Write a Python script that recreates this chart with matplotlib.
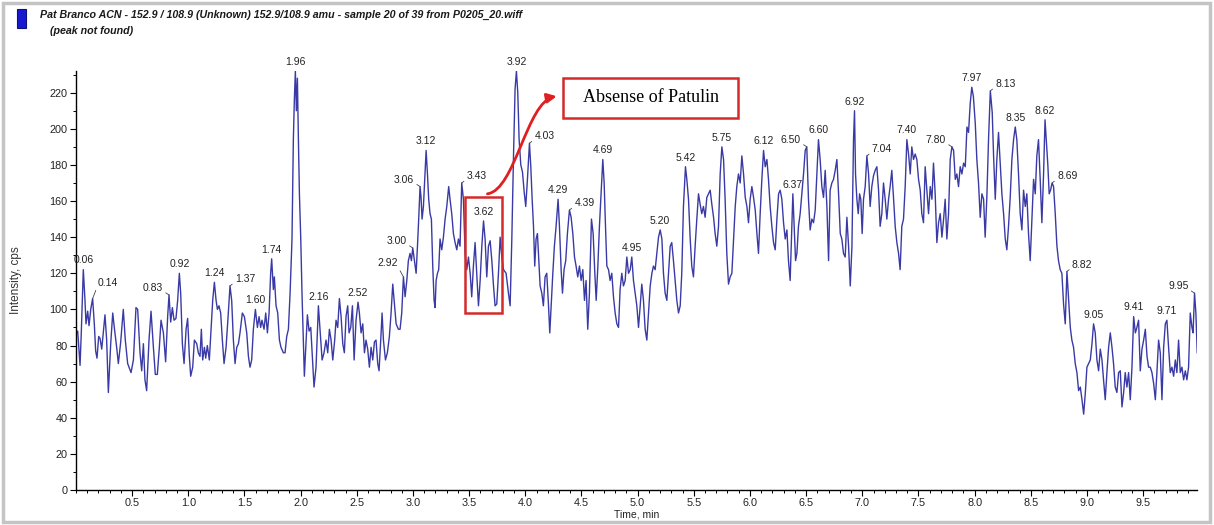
import numpy as np
import matplotlib
matplotlib.use("Agg")
import matplotlib.pyplot as plt
from matplotlib.patches import Rectangle, FancyArrowPatch
from matplotlib.path import Path
from matplotlib.ticker import MultipleLocator

plt.rcParams['font.family'] = ['Liberation Sans', 'DejaVu Sans']

# --------------------------------------------------
# XIC trace 152.9 / 108.9 (time in min, intensity in cps)
# --------------------------------------------------

trace_0_1 = [(0.000, 86), (0.015, 88), (0.036, 69), (0.047, 87), (0.065, 122), (0.080, 105), (0.089, 92),
             (0.104, 99), (0.116, 91), (0.131, 100), (0.148, 106), (0.163, 92), (0.175, 77), (0.187, 73),
             (0.202, 85), (0.214, 84), (0.229, 78), (0.243, 87), (0.258, 97), (0.273, 83), (0.288, 54),
             (0.309, 81), (0.327, 98), (0.341, 90), (0.362, 79), (0.377, 70), (0.398, 82), (0.421, 100),
             (0.439, 83), (0.460, 70), (0.490, 65), (0.511, 72), (0.534, 101), (0.549, 100), (0.570, 76),
             (0.585, 66), (0.600, 81), (0.614, 61), (0.629, 55), (0.650, 83), (0.668, 99), (0.689, 79),
             (0.706, 64), (0.724, 64), (0.742, 79), (0.757, 94), (0.778, 87), (0.798, 71), (0.816, 96),
             (0.828, 108), (0.843, 93), (0.858, 101), (0.873, 94), (0.890, 95), (0.905, 105), (0.920, 120),
             (0.932, 109), (0.947, 81), (0.962, 70), (0.980, 89), (0.994, 95)]

trace_1_2 = [(1.009, 74), (1.021, 63), (1.039, 68), (1.054, 83), (1.075, 81), (1.089, 76), (1.104, 74),
             (1.116, 89), (1.128, 72), (1.143, 79), (1.155, 73), (1.169, 80), (1.187, 72), (1.202, 89),
             (1.217, 105), (1.232, 115), (1.247, 105), (1.259, 100), (1.273, 102), (1.288, 98), (1.303, 83),
             (1.318, 70), (1.336, 79), (1.354, 96), (1.371, 113), (1.386, 105), (1.401, 83), (1.416, 70),
             (1.431, 79), (1.446, 81), (1.460, 87), (1.481, 98), (1.499, 96), (1.520, 87), (1.535, 74),
             (1.549, 68), (1.564, 72), (1.579, 89), (1.597, 100), (1.615, 90), (1.630, 96), (1.644, 90),
             (1.656, 94), (1.674, 89), (1.689, 98), (1.704, 87), (1.719, 98), (1.733, 120), (1.742, 128),
             (1.757, 111), (1.766, 118), (1.781, 102), (1.796, 98), (1.811, 83), (1.825, 79), (1.846, 76),
             (1.861, 76), (1.876, 85), (1.891, 89), (1.906, 109), (1.923, 139), (1.935, 194), (1.944, 216),
             (1.953, 232), (1.962, 210), (1.971, 228), (1.980, 194), (1.989, 164)]

trace_2_3 = [(2.001, 139), (2.012, 109), (2.024, 83), (2.033, 63), (2.060, 97), (2.075, 88), (2.090, 90),
             (2.104, 74), (2.119, 57), (2.137, 68), (2.158, 102), (2.173, 88), (2.191, 72), (2.208, 76),
             (2.226, 83), (2.241, 76), (2.256, 89), (2.271, 83), (2.286, 72), (2.303, 83), (2.315, 94),
             (2.330, 90), (2.345, 106), (2.360, 96), (2.375, 81), (2.389, 76), (2.404, 96), (2.419, 102),
             (2.431, 87), (2.446, 90), (2.461, 102), (2.476, 72), (2.493, 94), (2.511, 104), (2.523, 98),
             (2.538, 87), (2.553, 92), (2.568, 76), (2.582, 83), (2.597, 78), (2.612, 68), (2.627, 79),
             (2.642, 72), (2.657, 82), (2.671, 83), (2.686, 70), (2.698, 66), (2.713, 83), (2.725, 98),
             (2.737, 83), (2.755, 72), (2.772, 76), (2.790, 85), (2.805, 98), (2.820, 114), (2.835, 103),
             (2.850, 92), (2.870, 89), (2.885, 89), (2.900, 98), (2.915, 118), (2.930, 107), (2.945, 116),
             (2.959, 127), (2.974, 131), (2.986, 127), (2.998, 134)]

trace_3_4 = [(3.013, 127), (3.028, 120), (3.040, 135), (3.051, 150), (3.063, 168), (3.072, 162), (3.081, 150),
             (3.093, 157), (3.105, 172), (3.117, 188), (3.129, 175), (3.140, 161), (3.152, 153), (3.164, 150),
             (3.176, 124), (3.188, 105), (3.197, 101), (3.206, 116), (3.218, 120), (3.229, 122), (3.241, 139),
             (3.256, 133), (3.271, 140), (3.286, 150), (3.301, 157), (3.318, 168), (3.330, 161), (3.345, 153),
             (3.360, 142), (3.375, 137), (3.390, 133), (3.405, 139), (3.419, 135), (3.434, 170), (3.449, 161),
             (3.464, 131), (3.479, 122), (3.494, 129), (3.509, 120), (3.523, 107), (3.538, 124), (3.553, 137),
             (3.568, 120), (3.583, 102), (3.598, 116), (3.613, 135), (3.628, 149), (3.642, 139), (3.657, 118),
             (3.672, 135), (3.687, 138), (3.702, 127), (3.717, 113), (3.731, 102), (3.746, 103), (3.761, 120),
             (3.776, 140), (3.791, 129), (3.806, 122), (3.829, 120), (3.850, 109), (3.865, 102), (3.880, 139),
             (3.895, 185), (3.909, 222), (3.921, 232), (3.933, 220), (3.945, 194), (3.960, 180), (3.975, 176),
             (3.990, 165)]

trace_4_5 = [(4.004, 157), (4.019, 172), (4.037, 192), (4.049, 179), (4.061, 161), (4.073, 146), (4.084, 124),
             (4.096, 139), (4.108, 142), (4.120, 127), (4.132, 113), (4.147, 109), (4.161, 102), (4.176, 118),
             (4.191, 120), (4.206, 103), (4.218, 87), (4.230, 102), (4.245, 120), (4.259, 135), (4.274, 146),
             (4.292, 161), (4.304, 146), (4.319, 122), (4.331, 109), (4.345, 122), (4.360, 127), (4.375, 142),
             (4.393, 155), (4.408, 151), (4.423, 142), (4.438, 129), (4.452, 124), (4.467, 118), (4.482, 124),
             (4.497, 116), (4.512, 122), (4.527, 105), (4.541, 116), (4.556, 89), (4.571, 109), (4.589, 150),
             (4.604, 142), (4.619, 120), (4.631, 105), (4.646, 124), (4.660, 146), (4.675, 164), (4.690, 183),
             (4.702, 170), (4.714, 146), (4.726, 124), (4.741, 122), (4.755, 116), (4.770, 120), (4.785, 107),
             (4.800, 98), (4.815, 92), (4.830, 90), (4.844, 111), (4.859, 120), (4.874, 113), (4.889, 116),
             (4.904, 129), (4.919, 120), (4.934, 122), (4.948, 129), (4.963, 116), (4.978, 109), (4.993, 102)]

trace_5_6 = [(5.008, 90), (5.023, 102), (5.037, 114), (5.052, 105), (5.067, 89), (5.082, 83), (5.097, 98),
             (5.112, 113), (5.127, 120), (5.141, 124), (5.156, 122), (5.171, 131), (5.186, 140), (5.201, 144),
             (5.216, 139), (5.230, 120), (5.245, 109), (5.260, 105), (5.275, 120), (5.290, 135), (5.304, 137),
             (5.319, 127), (5.334, 116), (5.349, 105), (5.364, 98), (5.379, 102), (5.393, 120), (5.408, 157),
             (5.426, 179), (5.438, 172), (5.453, 161), (5.468, 139), (5.482, 124), (5.497, 118), (5.512, 135),
             (5.527, 150), (5.542, 164), (5.557, 158), (5.571, 153), (5.586, 157), (5.601, 151), (5.616, 162),
             (5.631, 164), (5.646, 166), (5.661, 158), (5.676, 151), (5.690, 142), (5.705, 135), (5.720, 146),
             (5.735, 175), (5.750, 190), (5.765, 183), (5.779, 161), (5.794, 131), (5.809, 114), (5.824, 118),
             (5.839, 120), (5.854, 139), (5.869, 157), (5.883, 168), (5.898, 175), (5.913, 170), (5.928, 185),
             (5.943, 175), (5.958, 162), (5.973, 157), (5.987, 148)]

trace_6_7 = [(6.002, 161), (6.017, 168), (6.032, 162), (6.047, 155), (6.062, 142), (6.076, 131), (6.091, 153),
             (6.106, 172), (6.121, 188), (6.136, 179), (6.151, 183), (6.165, 172), (6.180, 157), (6.195, 146),
             (6.210, 137), (6.225, 133), (6.240, 150), (6.255, 164), (6.269, 166), (6.284, 161), (6.299, 148),
             (6.314, 139), (6.329, 144), (6.343, 127), (6.358, 116), (6.373, 146), (6.382, 164), (6.394, 146),
             (6.406, 127), (6.418, 131), (6.432, 146), (6.447, 153), (6.462, 164), (6.477, 175), (6.492, 188),
             (6.506, 190), (6.521, 161), (6.536, 144), (6.551, 150), (6.566, 148), (6.581, 155), (6.596, 175),
             (6.610, 194), (6.625, 183), (6.640, 168), (6.655, 162), (6.670, 177), (6.685, 157), (6.700, 127),
             (6.714, 166), (6.729, 170), (6.744, 172), (6.759, 177), (6.774, 183), (6.789, 164), (6.804, 142),
             (6.818, 139), (6.833, 131), (6.848, 129), (6.863, 151), (6.878, 135), (6.893, 113), (6.908, 135),
             (6.922, 194), (6.931, 210), (6.940, 175), (6.952, 161), (6.964, 153), (6.976, 164), (6.987, 161)]

trace_7_8 = [(6.999, 142), (7.011, 161), (7.026, 168), (7.041, 185), (7.056, 175), (7.070, 157), (7.085, 168),
             (7.100, 174), (7.115, 177), (7.130, 179), (7.145, 166), (7.159, 146), (7.174, 153), (7.189, 170),
             (7.204, 161), (7.219, 150), (7.234, 161), (7.248, 168), (7.263, 177), (7.278, 162), (7.293, 146),
             (7.308, 137), (7.323, 131), (7.337, 122), (7.352, 146), (7.367, 150), (7.382, 168), (7.397, 194),
             (7.412, 186), (7.427, 175), (7.441, 190), (7.456, 183), (7.471, 186), (7.486, 183), (7.501, 172),
             (7.516, 166), (7.530, 153), (7.545, 148), (7.560, 179), (7.575, 166), (7.590, 153), (7.605, 168),
             (7.620, 161), (7.634, 181), (7.649, 164), (7.664, 137), (7.679, 148), (7.694, 153), (7.709, 140),
             (7.724, 150), (7.738, 161), (7.753, 139), (7.768, 153), (7.783, 183), (7.798, 190), (7.813, 188),
             (7.828, 172), (7.842, 175), (7.857, 168), (7.872, 179), (7.887, 175), (7.902, 181), (7.917, 179),
             (7.932, 201), (7.946, 198), (7.961, 214), (7.975, 223), (7.989, 218)]

trace_8_9 = [(8.006, 203), (8.020, 183), (8.035, 170), (8.050, 151), (8.065, 164), (8.080, 161), (8.094, 140),
             (8.109, 162), (8.124, 194), (8.140, 221), (8.157, 209), (8.169, 185), (8.184, 161), (8.198, 183),
             (8.213, 198), (8.228, 181), (8.243, 164), (8.258, 153), (8.273, 139), (8.287, 133), (8.302, 146),
             (8.317, 162), (8.332, 183), (8.347, 194), (8.362, 201), (8.376, 194), (8.391, 175), (8.406, 153),
             (8.421, 144), (8.436, 166), (8.451, 157), (8.465, 164), (8.480, 142), (8.495, 127), (8.510, 150),
             (8.525, 172), (8.540, 164), (8.554, 185), (8.569, 194), (8.584, 172), (8.599, 148), (8.614, 175),
             (8.627, 205), (8.640, 192), (8.652, 180), (8.664, 164), (8.676, 166), (8.690, 170), (8.703, 168),
             (8.718, 153), (8.733, 135), (8.747, 127), (8.762, 122), (8.777, 120), (8.792, 103), (8.807, 92),
             (8.822, 121), (8.837, 105), (8.852, 90), (8.866, 83), (8.881, 79), (8.896, 70), (8.911, 65),
             (8.926, 55), (8.941, 57), (8.956, 50), (8.971, 42), (8.986, 54)]

trace_9_10 = [(9.000, 68), (9.015, 70), (9.030, 72), (9.045, 81), (9.059, 92), (9.074, 87), (9.089, 72),
              (9.104, 66), (9.119, 78), (9.134, 72), (9.148, 61), (9.163, 50), (9.178, 65), (9.193, 79),
              (9.208, 87), (9.223, 79), (9.237, 70), (9.252, 57), (9.267, 54), (9.282, 65), (9.297, 66),
              (9.312, 46), (9.327, 54), (9.341, 65), (9.356, 57), (9.371, 65), (9.386, 50), (9.401, 68),
              (9.416, 96), (9.431, 87), (9.445, 90), (9.460, 94), (9.475, 66), (9.490, 78), (9.505, 83),
              (9.520, 89), (9.535, 74), (9.549, 68), (9.564, 68), (9.579, 65), (9.594, 59), (9.609, 50),
              (9.623, 65), (9.638, 83), (9.653, 76), (9.668, 50), (9.683, 79), (9.698, 92), (9.712, 94),
              (9.727, 79), (9.742, 65), (9.757, 68), (9.772, 63), (9.787, 72), (9.801, 65), (9.816, 83),
              (9.831, 65), (9.846, 68), (9.861, 61), (9.876, 66), (9.890, 61), (9.905, 68), (9.920, 98),
              (9.935, 90), (9.945, 87), (9.958, 109), (9.970, 98), (9.982, 76)]

# apex labels (retention time, min)
peak_labels = ["0.06", "0.14", "0.83", "0.92", "1.24", "1.37", "1.60", "1.74", "1.96", "2.16", "2.52",
               "2.92", "3.00", "3.06", "3.12", "3.43", "3.62", "3.92", "4.03", "4.29", "4.39", "4.69",
               "4.95", "5.20", "5.42", "5.75", "6.12", "6.37", "6.50", "6.60", "6.92", "7.04", "7.40",
               "7.80", "7.97", "8.13", "8.35", "8.62", "8.69", "8.82", "9.05", "9.41", "9.71", "9.95"]
labels_right = ["0.14", "1.37", "3.43", "4.03", "4.39", "7.04", "8.13", "8.69", "8.82"]
labels_left = ["0.83", "2.92", "3.00", "3.06", "6.50", "7.80", "9.95"]

# window where patulin would elute
patulin_window = (3.46, 3.795)
patulin_range = (98, 162)
callout_text = "Absense of Patulin"

title_1 = "Pat Branco ACN - 152.9 / 108.9 (Unknown) 152.9/108.9 amu - sample 20 of 39 from P0205_20.wiff"
title_2 = "(peak not found)"

# --------------------------------------------------
# ARRAYS
# --------------------------------------------------

segments = [trace_0_1, trace_1_2, trace_2_3, trace_3_4, trace_4_5,
            trace_5_6, trace_6_7, trace_7_8, trace_8_9, trace_9_10]
datos = np.array([p for seg in segments for p in seg])
time_min = datos[:, 0]
intensity = datos[:, 1]

# --------------------------------------------------
# FIGURE
# --------------------------------------------------

W, H = 1214, 525
fig = plt.figure(figsize=(W / 100, H / 100), dpi=100)


def px(x, y):
    # pixel (from top-left) -> figure fraction
    return x / W, 1 - y / H


ax = fig.add_axes([76 / W, 35 / H, 1121 / W, 419 / H])
ax.plot(time_min, intensity, color='#3a3aa6', lw=1.0)

ax.set_xlim(0, 9.98)
ax.set_ylim(0, 232)
ax.xaxis.set_minor_locator(MultipleLocator(0.1))
ax.yaxis.set_major_locator(MultipleLocator(20))
ax.yaxis.set_minor_locator(MultipleLocator(10))
ax.set_xticks(np.arange(0.5, 9.6, 0.5))
ax.set_xticklabels([f"{v:.1f}" for v in np.arange(0.5, 9.6, 0.5)])

for s in ['top', 'right']:
    ax.spines[s].set_visible(False)
for s in ['left', 'bottom']:
    ax.spines[s].set_linewidth(1.0)
    ax.spines[s].set_color('black')

ax.tick_params(which='major', direction='out', length=4, width=0.8, labelsize=7.8,
               labelcolor='#222222', pad=2)
ax.tick_params(which='minor', direction='out', length=2, width=0.7)

ax.set_xlabel("Time, min", fontsize=7.5, color='#222222', labelpad=1)
ax.set_ylabel("Intensity, cps", fontsize=8.5, color='#333333', labelpad=20)

# apex labels
for lab in peak_labels:
    t0 = float(lab)
    near = np.where(np.abs(time_min - t0) <= 0.02)[0]
    i = near[np.argmax(intensity[near])]
    xy = (time_min[i], intensity[i])
    if lab in labels_right:
        dy = 11.5 if lab == "0.14" else 5
        ax.annotate(lab, xy=xy, xytext=(3.6, dy), textcoords='offset points',
                    ha='left', va='center', fontsize=7.5, color='#222222',
                    arrowprops=dict(arrowstyle='-', lw=0.6, color='#444444',
                                    shrinkA=0, shrinkB=0, relpos=(0, 0.2)),
                    annotation_clip=False)
    elif lab in labels_left:
        dy = 10 if lab == "2.92" else 5
        ax.annotate(lab, xy=xy, xytext=(-4.3, dy), textcoords='offset points',
                    ha='right', va='center', fontsize=7.5, color='#222222',
                    arrowprops=dict(arrowstyle='-', lw=0.6, color='#444444',
                                    shrinkA=0, shrinkB=0, relpos=(1, 0.2)),
                    annotation_clip=False)
    else:
        ax.annotate(lab, xy=xy, xytext=(0, 3), textcoords='offset points',
                    ha='center', va='bottom', fontsize=7.5, color='#222222',
                    annotation_clip=False)

# red box around the patulin window
ax.add_patch(Rectangle((patulin_window[0], patulin_range[0]),
                       patulin_window[1] - patulin_window[0],
                       patulin_range[1] - patulin_range[0],
                       fill=False, edgecolor='#d42a2a', lw=1.8, zorder=4))

# callout box
bx0, bx1 = 4.337, 5.895
by0, by1 = 206.0, 228.3
ax.add_patch(Rectangle((bx0, by0), bx1 - bx0, by1 - by0, facecolor='white',
                       edgecolor='#d42a2a', lw=1.8, zorder=4, clip_on=False))
ax.text((bx0 + bx1) / 2, (by0 + by1) / 2, callout_text, ha='center', va='center',
        fontsize=13, family='Liberation Serif', color='black', zorder=5)

# curved arrow from the window to the callout
verts = [(3.663, 164), (3.91, 166), (4.013, 215), (4.28, 218)]
codes = [Path.MOVETO, Path.CURVE4, Path.CURVE4, Path.CURVE4]
arrow = FancyArrowPatch(path=Path(verts, codes), arrowstyle='-|>', mutation_scale=14,
                        color='#e02020', lw=2.0, transform=ax.transData, clip_on=False, zorder=5)
ax.add_patch(arrow)

# header
x0, y0 = px(17, 28)
x1, y1 = px(26, 9)
fig.patches.append(Rectangle((x0, y0), x1 - x0, y1 - y0, transform=fig.transFigure,
                             facecolor='#1818d0', edgecolor='#10107a', lw=0.8))
fig.text(*px(40, 15), title_1, fontsize=7.7, fontweight='bold', fontstyle='italic',
         color='#1a1a1a', va='center', ha='left')
fig.text(*px(50, 31), title_2, fontsize=7.7, fontweight='bold', fontstyle='italic',
         color='#1a1a1a', va='center', ha='left')

# outer frame
fx0, fy0 = px(3, 522)
fx1, fy1 = px(1210, 3)
fig.patches.append(Rectangle((fx0, fy0), fx1 - fx0, fy1 - fy0, transform=fig.transFigure,
                             fill=False, edgecolor='#c4c4c4', lw=2.5))

fig.savefig("out.png", dpi=100)
